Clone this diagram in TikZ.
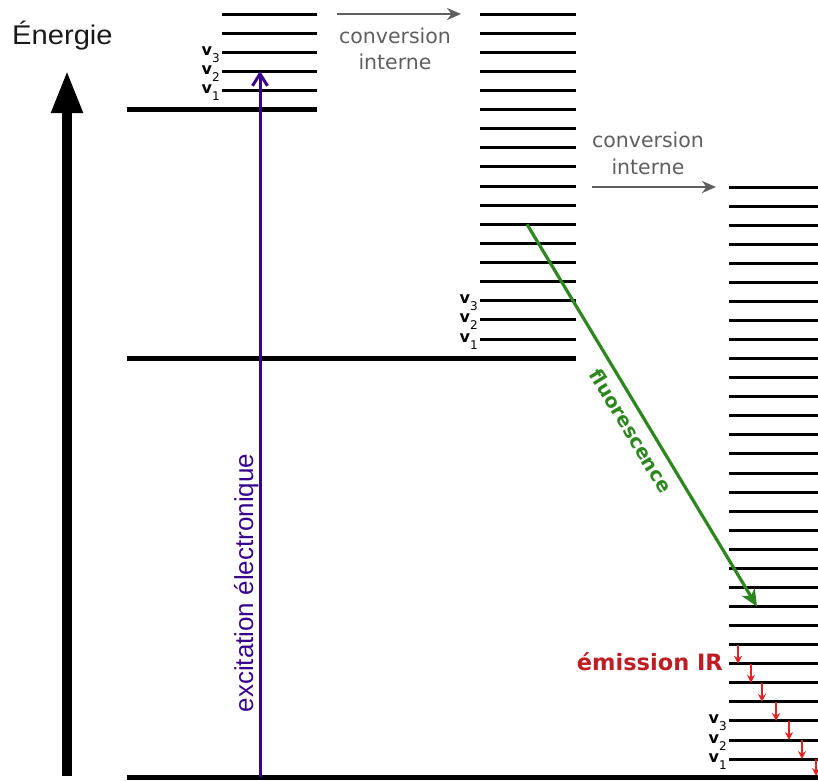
\documentclass[tikz,border=0pt]{standalone}
\usepackage{fontspec}
\setmainfont{Liberation Sans}
\newfontfamily\dvs{DejaVu Sans}
\usetikzlibrary{arrows.meta,calc}
\definecolor{exc}{RGB}{55,5,140}
\definecolor{fluo}{RGB}{45,135,30}
\definecolor{conv}{RGB}{95,95,95}
\definecolor{irc}{RGB}{190,30,35}
\definecolor{ira}{RGB}{225,35,35}
\definecolor{ink}{RGB}{25,25,25}
\newcommand{\vsub}[1]{v\raisebox{-7pt}{\mdseries\fontsize{12}{12}\selectfont #1}}
\begin{document}
\begin{tikzpicture}[x=1pt,y=-1pt,
  level/.style={line width=3pt,draw=black},
  ground/.style={line width=5pt,draw=black},
  vlab/.style={anchor=base east,inner sep=0pt,font=\dvs\bfseries\fontsize{16}{16}\selectfont},
  convtext/.style={anchor=base,inner sep=0pt,text=conv,font=\dvs\fontsize{20.5}{24}\selectfont},
  convarrow/.style={draw=conv,line width=2.8pt,-{Stealth[length=14pt,width=12pt]}},
  irarrow/.style={draw=ira,line width=2.4pt,-{Stealth[length=8pt,width=8pt]}}]
\useasboundingbox (0,0) rectangle (818,780);

% energy axis
\coordinate (E0) at (67,776);
\coordinate (E1) at (67,70);
\draw[line width=10.5pt,-{Triangle[length=43pt,width=29pt]}] (E0) -- (E1);
\node[anchor=base west,inner sep=0pt,text=ink,font=\fontsize{27}{30}\selectfont] (energie) at (12,44) {\scalebox{1.08}[1]{Énergie}};

% top column
\foreach \y [count=\i] in {90,71,52,33,14} {
  \draw[level] (222,\y) coordinate (A\i) -- (317,\y);
}
\draw[ground] (127,109) coordinate (GA) -- (317,109);

% middle column
\foreach \k in {0,...,17} {
  \pgfmathsetmacro\yy{14+\k*19.12}
  \draw[level] (480,\yy) coordinate (B\k) -- (576,\yy);
}
\draw[ground] (127,358) coordinate (GB) -- (576,358);

% right column
\foreach \k in {0,...,30} {
  \pgfmathsetmacro\yy{187+\k*19.07}
  \draw[level] (729,\yy) coordinate (C\k) -- (818,\yy);
}
\draw[ground] (127,777) coordinate (GC) -- (818,777);

% v labels
\node[vlab] (va1) at ($(A1)+(-2,3)$) {\vsub{1}};
\node[vlab] (va2) at ($(A2)+(-2,3)$) {\vsub{2}};
\node[vlab] (va3) at ($(A3)+(-2,3)$) {\vsub{3}};
\node[vlab] (vb1) at ($(B17)+(-2,3)$) {\vsub{1}};
\node[vlab] (vb2) at ($(B16)+(-2,3)$) {\vsub{2}};
\node[vlab] (vb3) at ($(B15)+(-2,3)$) {\vsub{3}};
\node[vlab] (vc1) at ($(C30)+(-2,3)$) {\vsub{1}};
\node[vlab] (vc2) at ($(C29)+(-2,3)$) {\vsub{2}};
\node[vlab] (vc3) at ($(C28)+(-2,3)$) {\vsub{3}};

% excitation
\draw[draw=exc,line width=3pt,-{Straight Barb[length=12pt,width=15pt,line width=3pt]}]
  ($(GC)+(133,0)$) -- ($(A2)+(38,0)$);
\node[rotate=90,anchor=base,inner sep=0pt,text=exc,font=\fontsize{26}{30}\selectfont] (exclab) at (253,583) {excitation électronique};

% internal conversions
\coordinate (ci1s) at (337,14);
\coordinate (ci1e) at (461,14);
\draw[convarrow] (ci1s) -- (ci1e);
\node[convtext] (ci1a) at (395,43) {conversion};
\node[convtext] (ci1b) at (395,69) {interne};
\coordinate (ci2s) at (592,187);
\coordinate (ci2e) at (716,187);
\draw[convarrow] (ci2s) -- (ci2e);
\node[convtext] (ci2a) at (648,147) {conversion};
\node[convtext] (ci2b) at (648,174) {interne};

% fluorescence
\draw[draw=fluo,line width=3.2pt,-{Stealth[length=17pt,width=15pt,inset=5pt]}]
  ($(B11)+(47,0)$) -- ($(C22)+(28,0)$);
\node[rotate=-58.9,inner sep=0pt,text=fluo,font=\dvs\bfseries\fontsize{19.5}{22}\selectfont] (fluolab) at (631,431) {fluorescence};

% IR emission
\node[anchor=base east,inner sep=0pt,text=irc,font=\dvs\bfseries\fontsize{22.5}{26}\selectfont] (irlab) at (723,670) {émission IR};
\draw[irarrow] ($(C24)+(9,0)$) -- ($(C25)+(9,0)$);
\draw[irarrow] ($(C25)+(22,0)$) -- ($(C26)+(22,0)$);
\draw[irarrow] ($(C26)+(33,0)$) -- ($(C27)+(33,0)$);
\draw[irarrow] ($(C27)+(47,0)$) -- ($(C28)+(47,0)$);
\draw[irarrow] ($(C28)+(60,0)$) -- ($(C29)+(60,0)$);
\draw[irarrow] ($(C29)+(73,0)$) -- ($(C30)+(73,0)$);
\draw[irarrow] ($(C30)+(87,0)$) -- ($(GC)+(689,-1)$);
\end{tikzpicture}
\end{document}
